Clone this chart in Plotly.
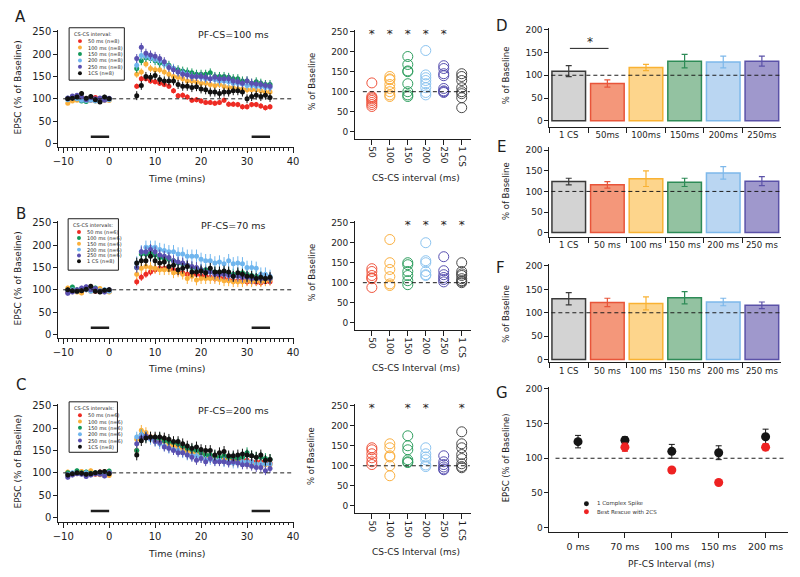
import plotly.graph_objects as go

W, H = 800, 577
FONT = "DejaVu Sans"
INK = "#1e1e1e"

# ---------------- DATA ----------------
TIME = [-9, -8, -7, -6, -5, -4, -3, -2, -1, 0,
        6, 7, 8, 9, 10, 11, 12, 13, 14, 15, 16, 17, 18, 19, 20,
        21, 22, 23, 24, 25, 26, 27, 28, 29, 30, 31, 32, 33, 34, 35]

C_RED, C_ORG, C_GRN, C_LB, C_PUR, C_BLK = "#ee2b24", "#fbb03b", "#13985a", "#70b6ee", "#5a50b0", "#111111"

# Panel A (PF-CS = 100 ms)
A_50 = [100, 98, 105, 102, 100, 97, 103, 98, 101, 99,
        128, 145, 145, 140, 138, 135, 132, 128, 118, 107, 108, 104, 97, 98, 95,
        92, 92, 90, 92, 97, 88, 88, 87, 82, 82, 87, 87, 84, 80, 82]
A_100 = [90, 95, 97, 100, 96, 98, 95, 100, 97, 96,
         155, 160, 178, 168, 165, 165, 160, 155, 150, 148, 145, 140, 140, 138, 135,
         135, 132, 130, 132, 128, 125, 125, 122, 122, 120, 120, 120, 118, 115, 115]
A_150 = [101, 103, 100, 95, 94, 98, 97, 100, 103, 100,
         168, 185, 192, 190, 185, 180, 178, 175, 168, 165, 162, 160, 158, 155, 155,
         155, 158, 150, 150, 150, 148, 145, 145, 140, 140, 135, 138, 135, 132, 132]
A_200 = [98, 102, 100, 97, 96, 97, 95, 94, 99, 98,
         175, 197, 195, 192, 188, 185, 178, 172, 168, 160, 158, 155, 150, 150, 148,
         145, 145, 143, 140, 140, 138, 135, 135, 133, 130, 130, 128, 128, 125, 125]
A_250 = [102, 106, 108, 104, 98, 103, 100, 102, 97, 101,
         190, 215, 202, 198, 195, 190, 183, 170, 165, 160, 155, 153, 150, 150, 150,
         148, 145, 148, 145, 145, 145, 140, 138, 135, 140, 135, 133, 132, 130, 128]
A_1CS = [100, 101, 104, 112, 101, 105, 98, 93, 104, 100,
         107, 130, 150, 148, 152, 143, 140, 140, 140, 132, 128, 128, 125, 127, 122,
         120, 115, 115, 112, 115, 115, 118, 118, 115, 100, 105, 108, 105, 108, 103]

# Panel B (PF-CS = 70 ms)
B_50 = [95, 100, 98, 102, 100, 103, 97, 100, 98, 96,
        118, 128, 135, 140, 145, 148, 148, 150, 145, 140, 138, 135, 135, 135, 132,
        130, 128, 125, 128, 125, 122, 120, 120, 120, 118, 118, 117, 116, 118, 118]
B_100 = [100, 106, 100, 98, 102, 100, 104, 100, 99, 97,
         150, 180, 180, 182, 178, 172, 170, 168, 165, 160, 158, 155, 150, 148, 145,
         145, 142, 140, 140, 138, 138, 135, 135, 138, 135, 132, 130, 130, 125, 125]
B_150 = [104, 98, 95, 93, 100, 97, 100, 103, 98, 95,
         135, 148, 152, 150, 148, 145, 145, 145, 138, 140, 135, 125, 130, 122, 125,
         125, 125, 125, 123, 120, 120, 118, 118, 118, 120, 118, 120, 118, 120, 122]
B_200 = [98, 100, 97, 102, 100, 97, 99, 98, 100, 97,
         160, 185, 195, 195, 195, 190, 188, 185, 185, 180, 180, 175, 175, 175, 168,
         165, 165, 160, 162, 158, 165, 158, 160, 158, 150, 150, 148, 135, 135, 130]
B_250 = [92, 95, 100, 104, 107, 100, 103, 97, 95, 100,
         150, 185, 185, 190, 185, 178, 175, 172, 165, 162, 160, 155, 152, 150, 145,
         140, 140, 135, 135, 135, 132, 130, 130, 128, 128, 125, 125, 125, 125, 125]
B_1CS = [100, 98, 97, 98, 101, 108, 97, 95, 99, 100,
         160, 165, 165, 175, 165, 160, 162, 152, 155, 145, 148, 152, 140, 140, 142,
         138, 148, 140, 140, 142, 140, 130, 138, 135, 130, 130, 125, 128, 125, 128]

# Panel C (PF-CS = 200 ms)
C_50 = [98, 97, 100, 102, 98, 100, 97, 102, 100, 101,
        150, 185, 185, 180, 178, 178, 175, 170, 165, 160, 158, 152, 150, 148, 145,
        140, 138, 135, 135, 132, 132, 130, 130, 128, 128, 125, 125, 125, 122, 122]
C_100 = [102, 97, 98, 103, 95, 105, 98, 96, 103, 94,
         175, 195, 190, 180, 175, 172, 170, 165, 160, 155, 150, 148, 145, 142, 140,
         135, 135, 132, 130, 130, 128, 125, 125, 125, 122, 120, 120, 120, 118, 118]
C_150 = [100, 98, 105, 100, 102, 99, 100, 101, 98, 104,
         150, 185, 180, 178, 175, 178, 172, 170, 168, 165, 160, 155, 152, 150, 145,
         140, 140, 138, 135, 138, 135, 135, 132, 135, 145, 138, 135, 135, 132, 130]
C_200 = [97, 100, 99, 98, 100, 97, 98, 100, 102, 100,
         180, 185, 182, 175, 170, 165, 160, 155, 152, 150, 145, 140, 138, 138, 135,
         130, 130, 128, 128, 125, 125, 122, 122, 125, 125, 125, 120, 120, 120, 120]
C_250 = [90, 95, 98, 97, 92, 95, 98, 97, 93, 100,
         165, 178, 182, 178, 170, 168, 158, 155, 150, 145, 145, 140, 135, 128, 132,
         125, 132, 125, 125, 125, 122, 125, 122, 118, 118, 115, 112, 112, 105, 110]
C_1CS = [95, 98, 100, 99, 97, 98, 100, 102, 103, 98,
         140, 172, 178, 180, 180, 180, 178, 175, 170, 170, 165, 160, 155, 158, 152,
         150, 150, 140, 145, 148, 138, 138, 140, 142, 140, 138, 135, 140, 128, 130]

# SEM (baseline, post) per series
A_ERR = [(4, 6), (4, 8), (4, 10), (4, 10), (4, 10), (5, 10)]
B_ERR = [(5, 8), (5, 12), (5, 12), (5, 15), (5, 12), (5, 12)]
C_ERR = [(5, 10), (5, 12), (5, 12), (5, 12), (5, 10), (5, 12)]

A_LABELS = ["50 ms (n=8)", "100 ms (n=8)", "150 ms (n=8)", "200 ms (n=8)", "250 ms (n=8)", "1CS (n=8)"]
B_LABELS = ["50 ms (n=6)", "100 ms (n=6)", "150 ms (n=6)", "200 ms (n=6)", "250 ms (n=6)", "1 CS (n=8)"]
C_LABELS = ["50 ms (n=6)", "100 ms (n=6)", "150 ms (n=6)", "200 ms (n=6)", "250 ms (n=6)", "1CS (n=8)"]
A_COLORS = [C_RED, C_ORG, C_GRN, C_LB, C_PUR, C_BLK]
B_COLORS = [C_RED, C_GRN, C_ORG, C_LB, C_PUR, C_BLK]
C_COLORS = [C_RED, C_ORG, C_GRN, C_LB, C_PUR, C_BLK]

# Individual cells (scatter panels)
SC_CATS = ["50", "100", "150", "200", "250", "1 CS"]
SC_COLORS = ["#f0553e", "#fbb040", "#2e9e5e", "#8cc4f0", "#5850b0", "#4a4a4a"]
SA = [[122, 88, 82, 78, 73, 68, 63, 85],
      [138, 132, 130, 118, 108, 100, 92, 88],
      [188, 168, 152, 150, 120, 100, 92, 88],
      [203, 142, 135, 128, 120, 110, 98, 92],
      [165, 158, 145, 140, 108, 102, 100, 98],
      [145, 138, 128, 110, 100, 95, 85, 60]]
SB = [[135, 128, 118, 112, 110, 88],
      [208, 150, 133, 115, 97, 93],
      [150, 145, 128, 118, 105, 95],
      [200, 155, 150, 128, 120, 118],
      [165, 130, 120, 113, 108, 102],
      [150, 128, 122, 118, 110, 105, 100, 103]]
SC = [[145, 140, 130, 120, 110, 103],
      [155, 145, 125, 122, 100, 75],
      [175, 150, 140, 115, 110, 108],
      [145, 130, 122, 115, 102, 98],
      [125, 110, 103, 97, 92, 90],
      [185, 155, 145, 128, 118, 105, 98, 95]]
SA_STARS = ["50", "100", "150", "200", "250"]
SB_STARS = ["150", "200", "250", "1 CS"]
SC_STARS = ["50", "150", "200", "1 CS"]

# Bar panels
BAR_CATS_D = ["1 CS", "50ms", "100ms", "150ms", "200ms", "250ms"]
BAR_CATS_EF = ["1 CS", "50 ms", "100 ms", "150 ms", "200 ms", "250 ms"]
BAR_FILL = ["#d3d3d3", "#f4977a", "#fdd58c", "#93c2a1", "#bad6f2", "#9f98cc"]
BAR_EDGE = ["#3a3a3a", "#e8553a", "#f9b233", "#2e8b57", "#7db8ea", "#5b52a8"]
D_VALS = [109, 82, 117, 131, 129, 131]
D_ERR = [12, 8, 7, 15, 13, 11]
E_VALS = [124, 116, 131, 122, 145, 125]
E_ERR = [8, 8, 19, 10, 15, 11]
F_VALS = [130, 122, 120, 132, 123, 116]
F_ERR = [13, 9, 14, 13, 8, 7]

# Panel G
G_CATS = ["0 ms", "70 ms", "100 ms", "150 ms", "200 ms"]
G_1CS = [124, 126, 110, 108, 131]
G_1CS_ERR = [9, 5, 10, 10, 11]
G_RESCUE_CATS = ["70 ms", "100 ms", "150 ms", "200 ms"]
G_RESCUE = [116, 83, 65, 116]
G_RESCUE_ERR = [6, 3, 3, 5]

# ---------------- HELPERS ----------------
def PX(p):
    return p / W


def PY(p):
    return 1 - p / H


def dom_x(l, r):
    return [PX(l), PX(r)]


def dom_y(top, bottom):
    return [PY(bottom), PY(top)]


TICKFONT = dict(family=FONT, size=9, color=INK)


def base_axis(**kw):
    d = dict(showline=True, linecolor=INK, linewidth=1, ticks="outside", ticklen=4,
             tickwidth=1, tickcolor=INK, showgrid=False, zeroline=False,
             tickfont=TICKFONT, fixedrange=True)
    d.update(kw)
    return d


fig = go.Figure()
shapes = []
annotations = []


def text(x, y, s, size, xanchor="center", yanchor="middle", angle=0, color=INK):
    annotations.append(dict(x=PX(x), y=PY(y), xref="paper", yref="paper", text=s, showarrow=False,
                            xanchor=xanchor, yanchor=yanchor, textangle=angle,
                            font=dict(family=FONT, size=size, color=color)))


def dashed(xref, yref, x0, x1):
    shapes.append(dict(type="line", xref=xref, yref=yref, x0=x0, x1=x1, y0=100, y1=100,
                       line=dict(color=INK, width=1, dash="4px,3px")))


# ---------------- TIME-COURSE PANELS ----------------
time_panels = [
    ("x", "y", [A_50, A_100, A_150, A_200, A_250, A_1CS], A_COLORS, A_ERR, 26, 145),
    ("x3", "y3", [B_50, B_100, B_150, B_200, B_250, B_1CS], B_COLORS, B_ERR, 219, 338),
    ("x5", "y5", [C_50, C_100, C_150, C_200, C_250, C_1CS], C_COLORS, C_ERR, 404, 523),
]
layout_axes = {}
for i, (xa, ya, series, colors, errs, top, bottom) in enumerate(time_panels):
    for vals, col, (eb, ep) in zip(series, colors, errs):
        fig.add_trace(go.Scatter(
            x=TIME, y=vals, mode="markers", xaxis=xa, yaxis=ya, showlegend=False,
            marker=dict(color=col, size=5),
            error_y=dict(type="data", array=[eb] * 10 + [ep] * 30, color=col, thickness=1, width=0)))
    xname = "xaxis" if xa == "x" else "xaxis" + xa[1:]
    yname = "yaxis" if ya == "y" else "yaxis" + ya[1:]
    layout_axes[xname] = base_axis(domain=dom_x(53, 292.4), range=[-11.07, 40.3], anchor=ya,
                                   tickmode="linear", tick0=0, dtick=10, ticklen=5,
                                   tickfont=dict(family=FONT, size=10, color=INK),
                                   minor=dict(dtick=1, tick0=0, ticklen=2.5, ticks="outside",
                                              tickcolor=INK, tickwidth=1))
    layout_axes[yname] = base_axis(domain=dom_y(top, bottom), range=[-8.85, 254.4], anchor=xa,
                                   tickvals=[0, 50, 100, 150, 200, 250],
                                   tickfont=dict(family=FONT, size=10, color=INK))
    dashed(xa, ya, -10, 40)
    for x0, x1 in [(-4, 0), (31, 35)]:
        shapes.append(dict(type="line", xref=xa, yref=ya, x0=x0, x1=x1, y0=15, y1=15,
                           line=dict(color=INK, width=2.5)))

# ---------------- SCATTER PANELS ----------------
sc_panels = [("x2", "y2", SA, SA_STARS, 26, 136), ("x4", "y4", SB, SB_STARS, 219, 329),
             ("x6", "y6", SC, SC_STARS, 404, 514)]
for xa, ya, data, stars, top, bottom in sc_panels:
    for cat, col, vals in zip(SC_CATS, SC_COLORS, data):
        fig.add_trace(go.Scatter(
            x=[cat] * len(vals), y=vals, mode="markers", xaxis=xa, yaxis=ya, showlegend=False,
            marker=dict(symbol="circle-open", size=10, color=col, line=dict(width=1, color=col))))
    fig.add_trace(go.Scatter(x=stars, y=[242] * len(stars), mode="text", text=["*"] * len(stars),
                             textfont=dict(family=FONT, size=12, color=INK),
                             xaxis=xa, yaxis=ya, showlegend=False))
    layout_axes["xaxis" + xa[1:]] = base_axis(domain=dom_x(354, 471), range=[-0.93, 5.49], anchor=ya,
                                             type="category", categoryorder="array", categoryarray=SC_CATS,
                                             tickangle=90, ticklen=5)
    layout_axes["yaxis" + ya[1:]] = base_axis(domain=dom_y(top, bottom), range=[-17.3, 255], anchor=xa,
                                             tickvals=[0, 50, 100, 150, 200, 250])
    dashed(xa, ya, -0.5, 5.45)

# ---------------- BAR PANELS ----------------
bar_panels = [("x7", "y7", BAR_CATS_D, D_VALS, D_ERR, 24, 124, [-13, 204.3]),
              ("x8", "y8", BAR_CATS_EF, E_VALS, E_ERR, 145, 235, [-9.6, 206.7]),
              ("x9", "y9", BAR_CATS_EF, F_VALS, F_ERR, 263, 362, [-5.7, 203.6])]
for xa, ya, cats, vals, errs, top, bottom, yr in bar_panels:
    for cat, v, e, fc, ec in zip(cats, vals, errs, BAR_FILL, BAR_EDGE):
        fig.add_trace(go.Bar(x=[cat], y=[v], width=0.87, xaxis=xa, yaxis=ya, showlegend=False,
                             marker=dict(color=fc, line=dict(color=ec, width=1.5)),
                             error_y=dict(type="data", array=[e], color=ec, thickness=1.2, width=3)))
    layout_axes["xaxis" + xa[1:]] = base_axis(domain=dom_x(551, 786), range=[-0.5, 5.5], anchor=ya,
                                             type="category", categoryorder="array", categoryarray=cats,
                                             tickson="boundaries", ticklen=5, tickangle=0,
                                             tickfont=dict(family=FONT, size=8.6, color=INK))
    layout_axes["yaxis" + ya[1:]] = base_axis(domain=dom_y(top, bottom), range=yr, anchor=xa,
                                             tickvals=[0, 50, 100, 150, 200])
    dashed(xa, ya, -0.45, 5.5)

# significance in D
shapes.append(dict(type="line", xref="x7", yref="y7", x0=0.03, x1=1.03, y0=159, y1=159,
                   line=dict(color=INK, width=1)))
annotations.append(dict(x=0.55, y=172, xref="x7", yref="y7", text="*", showarrow=False,
                        font=dict(family=FONT, size=12, color=INK)))

# ---------------- PANEL G ----------------
fig.add_trace(go.Scatter(x=G_CATS, y=G_1CS, mode="markers", xaxis="x10", yaxis="y10", showlegend=False,
                         marker=dict(color="#151515", size=9),
                         error_y=dict(type="data", array=G_1CS_ERR, color="#151515", thickness=1, width=3)))
fig.add_trace(go.Scatter(x=G_RESCUE_CATS, y=G_RESCUE, mode="markers", xaxis="x10", yaxis="y10",
                         showlegend=False, marker=dict(color="#ee2222", size=9),
                         error_y=dict(type="data", array=G_RESCUE_ERR, color="#ee2222", thickness=1, width=3)))
layout_axes["xaxis10"] = base_axis(domain=dom_x(551, 793), range=[-0.61, 4.48], anchor="y10",
                                   type="category", categoryorder="array", categoryarray=G_CATS,
                                   ticklen=5, tickangle=0, tickfont=dict(family=FONT, size=9.5, color=INK))
layout_axes["yaxis10"] = base_axis(domain=dom_y(387, 534), range=[-7.1, 202.9], anchor="x10",
                                   tickvals=[0, 50, 100, 150, 200])
dashed("x10", "y10", -0.48, 4.42)

# ---------------- LEGENDS (boxes with dots) ----------------
legends = [
    ("CS-CS interval:", A_LABELS, A_COLORS, (64, 24, 120, 77), 30.5, 37.5, 6.5),
    ("CS-CS intervals:", B_LABELS, B_COLORS, (63, 217, 114, 269), 223.5, 230.5, 5.9),
    ("CS-CS intervals:", C_LABELS, C_COLORS, (64, 402, 113, 453), 408.5, 415.5, 6.4),
]
for title, labels, colors, (l, t, r, b), ty, y0, dy in legends:
    shapes.append(dict(type="rect", xref="paper", yref="paper", x0=PX(l), x1=PX(r), y0=PY(b), y1=PY(t),
                       line=dict(color=INK, width=1), fillcolor="white", layer="above"))
    text(l + 3, ty, title, 5, xanchor="left")
    for k, (lab, col) in enumerate(zip(labels, colors)):
        yy = y0 + k * dy
        shapes.append(dict(type="circle", xref="paper", yref="paper", x0=PX(l + 9), x1=PX(l + 13),
                           y0=PY(yy + 2), y1=PY(yy - 2), fillcolor=col, line=dict(width=0), layer="above"))
        text(l + 17, yy, lab, 5, xanchor="left")

# G legend
for k, (lab, col) in enumerate([("1 Complex Spike", "#151515"), ("Best Rescue with 2CS", "#ee2222")]):
    yy = 505 + k * 8
    shapes.append(dict(type="circle", xref="paper", yref="paper", x0=PX(586), x1=PX(591),
                       y0=PY(yy + 2.5), y1=PY(yy - 2.5), fillcolor=col, line=dict(width=0)))
    text(597, yy, lab, 5.5, xanchor="left", color="#333333")

# ---------------- TEXT ----------------
for letter, x, y in [("A", 15, 13), ("B", 15, 212), ("C", 15, 385), ("D", 503, 22),
                     ("E", 502, 144), ("F", 501, 267), ("G", 503, 393)]:
    text(x, y, letter, 15)

for s, y in [("PF-CS=100 ms", 31), ("PF-CS=70 ms", 224), ("PF-CS=200 ms", 411)]:
    text(231, y, s, 9.5)

for yc in [84.5, 277.5, 462.5]:
    text(12, yc, "EPSC (% of Baseline)", 9, angle=-90)
for yy in [176, 368, 555]:
    text(173, yy, "Time (mins)", 9.5)

for yc in [78.5, 271.5, 457]:
    text(310, yc, "% of Baseline", 8.5, angle=-90)
for s, yy in [("CS-CS interval (ms)", 176), ("CS-CS Interval (ms)", 368), ("CS-CS Interval (ms)", 554)]:
    text(416, yy, s, 9)

for yc in [72, 189, 313]:
    text(507, yc, "% of Baseline", 8.5, angle=-90)
text(507, 459, "EPSC (% of Baseline)", 8.5, angle=-90)
text(675, 566, "PF-CS Interval (ms)", 9)

fig.update_layout(
    width=W, height=H, margin=dict(l=0, r=0, t=0, b=0),
    paper_bgcolor="white", plot_bgcolor="rgba(0,0,0,0)",
    font=dict(family=FONT, color=INK), barmode="overlay",
    shapes=shapes, annotations=annotations, showlegend=False,
    **layout_axes)

fig.write_html("out.html", config={"displayModeBar": False, "staticPlot": True},
               post_script="document.body.style.margin='0';document.body.style.overflow='hidden';")
